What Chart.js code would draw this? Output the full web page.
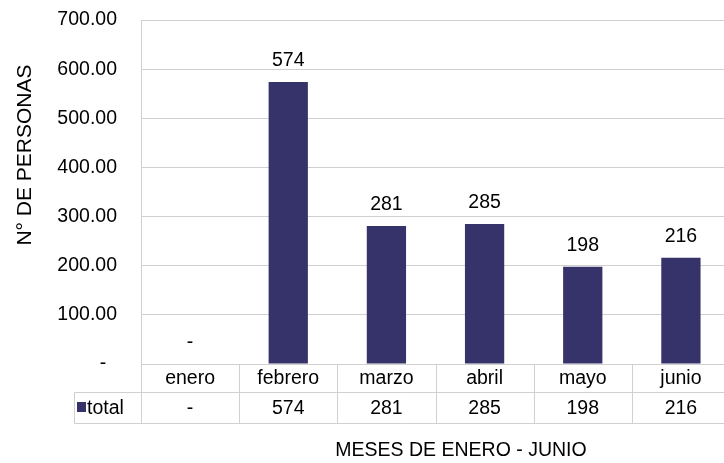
<!DOCTYPE html>
<html>
<head>
<meta charset="utf-8">
<script src="https://cdn.jsdelivr.net/npm/chart.js@4.4.1/dist/chart.umd.min.js"></script>
<style>
  html, body { margin: 0; padding: 0; background: #fff; overflow: hidden; }
  #wrap { width: 740px; height: 463px; }
</style>
</head>
<body>
<div id="wrap"><canvas id="c" width="740" height="463"></canvas></div>
<script>
const categories = ['enero', 'febrero', 'marzo', 'abril', 'mayo', 'junio'];
const totals = [0, 574, 281, 285, 198, 216];
const seriesName = 'total';
const yTicks = [0, 100, 200, 300, 400, 500, 600, 700];
const xTitle = 'MESES DE ENERO - JUNIO';
const yTitle = 'N° DE PERSONAS';

const FONT = '"Liberation Sans", Arial, sans-serif';
const FS = 19.5;
const BAR = '#353369';
const GRID = '#D0D0D0';

function fmtVal(v) { return v === 0 ? '-' : String(v); }

const tablePlugin = {
  id: 'tablePlugin',
  afterDraw(chart) {
    const ctx = chart.ctx;
    const xs = chart.scales.x;
    const ys = chart.scales.y;
    const ca = chart.chartArea;
    const n = categories.length;
    const w = (ca.right - ca.left) / n;
    const y0 = ys.getPixelForValue(0);
    const r1 = y0 + 28;
    const r2 = r1 + 31;
    const tableLeft = 74;
    const px = v => Math.round(v) + 0.5;

    ctx.save();
    ctx.strokeStyle = GRID;
    ctx.lineWidth = 1;
    ctx.beginPath();
    ctx.moveTo(px(ca.left), px(y0)); ctx.lineTo(ca.right, px(y0));
    ctx.moveTo(px(tableLeft), px(r1)); ctx.lineTo(ca.right, px(r1));
    ctx.moveTo(px(tableLeft), px(r2)); ctx.lineTo(ca.right, px(r2));
    ctx.moveTo(px(tableLeft), px(r1)); ctx.lineTo(px(tableLeft), px(r2));
    for (let i = 0; i <= n; i++) {
      const x = px(ca.left + i * w);
      ctx.moveTo(x, i === 0 ? ca.top : px(y0));
      ctx.lineTo(x, px(r2));
    }
    ctx.stroke();

    ctx.fillStyle = '#000';
    ctx.font = FS + 'px ' + FONT;
    ctx.textAlign = 'center';
    ctx.textBaseline = 'middle';
    const meta = chart.getDatasetMeta(0);
    categories.forEach((c, i) => {
      const cx = xs.getPixelForValue(i);
      ctx.fillText(c, cx, (y0 + r1) / 2 + 1);
      ctx.fillText(fmtVal(totals[i]), cx, (r1 + r2) / 2 + 1);
      const bar = meta.data[i];
      ctx.fillText(fmtVal(totals[i]), bar.x, bar.y - 21);
    });

    ctx.fillStyle = BAR;
    ctx.fillRect(77, r1 + 10, 9, 10);
    ctx.fillStyle = '#000';
    ctx.textAlign = 'left';
    ctx.fillText(seriesName, 87, (r1 + r2) / 2 + 1);

    ctx.textAlign = 'center';
    ctx.fillText(xTitle, 461, 451);
    ctx.font = '21px ' + FONT;
    ctx.translate(25, 155);
    ctx.rotate(-Math.PI / 2);
    ctx.fillText(yTitle, 0, 0);
    ctx.restore();
  }
};

new Chart(document.getElementById('c'), {
  type: 'bar',
  data: {
    labels: categories,
    datasets: [{
      label: seriesName,
      data: totals,
      backgroundColor: BAR,
      borderWidth: 0,
      categoryPercentage: 1,
      barPercentage: 0.4
    }]
  },
  options: {
    responsive: false,
    devicePixelRatio: 1,
    animation: false,
    layout: { padding: { left: 0, top: 20, right: 10, bottom: 99 } },
    plugins: { legend: { display: false }, tooltip: { enabled: false } },
    scales: {
      x: { display: false, offset: true },
      y: {
        min: 0, max: 700,
        afterFit(scale) { scale.width = 141; scale.paddingTop = 0; scale.paddingBottom = 0; },
        afterBuildTicks(scale) { scale.ticks = yTicks.map(v => ({ value: v })); },
        ticks: {
          padding: 24,
          color: '#000',
          font: { family: FONT, size: FS },
          callback: v => v === 0 ? '-  ' : Number(v).toFixed(2)
        },
        grid: { color: GRID, drawTicks: false, lineWidth: 1 },
        border: { display: true, color: GRID }
      }
    }
  },
  plugins: [tablePlugin]
});
</script>
</body>
</html>
